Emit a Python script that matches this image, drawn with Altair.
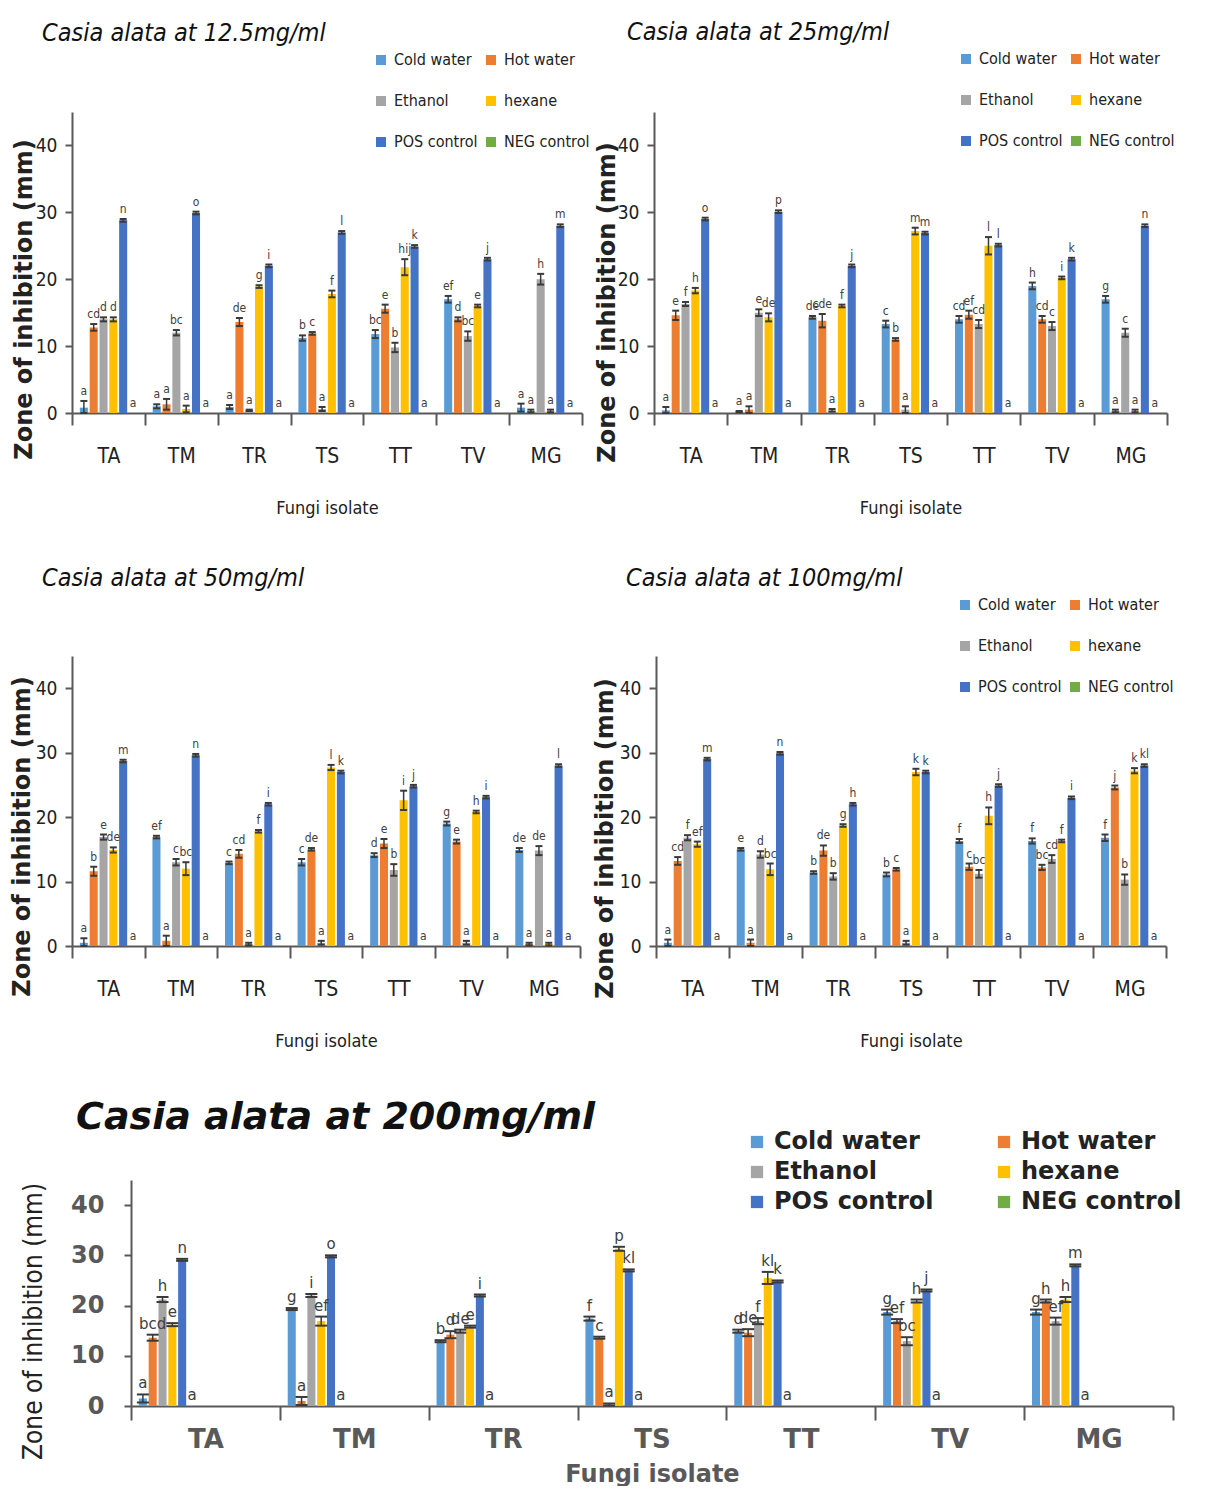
import altair as alt
import pandas as pd

FUNGI = ["TA", "TM", "TR", "TS", "TT", "TV", "MG"]
TREATMENTS = ["Cold water", "Hot water", "Ethanol", "hexane", "POS control", "NEG control"]
COLORS = ["#5B9BD5", "#ED7D31", "#A5A5A5", "#FFC000", "#4472C4", "#70AD47"]
Y_TICKS = [0, 10, 20, 30, 40]

# ---------------- 12.5 mg/ml ----------------
P1_MEAN = {
    "Cold water": [0.8, 1.0, 0.9, 11.2, 11.8, 17.0, 0.8],
    "Hot water": [12.8, 1.3, 13.6, 11.9, 15.6, 14.0, 0.3],
    "Ethanol": [14.0, 12.0, 0.4, 0.6, 9.8, 11.5, 20.0],
    "hexane": [14.0, 0.6, 18.9, 17.8, 21.8, 16.0, 0.3],
    "POS control": [28.8, 29.9, 22.0, 27.0, 24.9, 23.0, 28.0],
    "NEG control": [0, 0, 0, 0, 0, 0, 0],
}
P1_ERR = {
    "Cold water": [1.0, 0.3, 0.3, 0.4, 0.6, 0.5, 0.6],
    "Hot water": [0.5, 0.8, 0.6, 0.2, 0.6, 0.3, 0.2],
    "Ethanol": [0.3, 0.4, 0.1, 0.3, 0.7, 0.7, 0.8],
    "hexane": [0.3, 0.5, 0.2, 0.5, 1.2, 0.2, 0.2],
    "POS control": [0.2, 0.2, 0.2, 0.2, 0.2, 0.2, 0.2],
    "NEG control": [0, 0, 0, 0, 0, 0, 0],
}
P1_LET = {
    "Cold water": ["a", "a", "a", "b", "bc", "ef", "a"],
    "Hot water": ["cd", "a", "de", "c", "e", "d", "a"],
    "Ethanol": ["d", "bc", "a", "a", "b", "bc", "h"],
    "hexane": ["d", "a", "g", "f", "hij", "e", "a"],
    "POS control": ["n", "o", "i", "l", "k", "j", "m"],
    "NEG control": ["a", "a", "a", "a", "a", "a", "a"],
}

# ---------------- 25 mg/ml ----------------
P2_MEAN = {
    "Cold water": [0.4, 0.2, 14.3, 13.3, 14.0, 19.0, 17.0],
    "Hot water": [14.6, 0.5, 13.8, 11.0, 14.7, 14.0, 0.3],
    "Ethanol": [16.3, 15.0, 0.4, 0.5, 13.3, 13.0, 12.0],
    "hexane": [18.3, 14.3, 16.0, 27.2, 25.0, 20.2, 0.3],
    "POS control": [29.0, 30.1, 22.0, 26.9, 25.1, 23.0, 28.0],
    "NEG control": [0, 0, 0, 0, 0, 0, 0],
}
P2_ERR = {
    "Cold water": [0.5, 0.1, 0.2, 0.5, 0.5, 0.5, 0.5],
    "Hot water": [0.7, 0.5, 1.0, 0.2, 0.6, 0.5, 0.2],
    "Ethanol": [0.3, 0.5, 0.2, 0.5, 0.6, 0.6, 0.6],
    "hexane": [0.4, 0.6, 0.2, 0.5, 1.3, 0.2, 0.2],
    "POS control": [0.2, 0.2, 0.2, 0.2, 0.2, 0.2, 0.2],
    "NEG control": [0, 0, 0, 0, 0, 0, 0],
}
P2_LET = {
    "Cold water": ["a", "a", "de", "c", "cd", "h", "g"],
    "Hot water": ["e", "a", "cde", "b", "ef", "cd", "a"],
    "Ethanol": ["f", "e", "a", "a", "cd", "c", "c"],
    "hexane": ["h", "de", "f", "m", "l", "i", "a"],
    "POS control": ["o", "p", "j", "m", "l", "k", "n"],
    "NEG control": ["a", "a", "a", "a", "a", "a", "a"],
}

# ---------------- 50 mg/ml ----------------
P3_MEAN = {
    "Cold water": [0.5, 16.9, 12.9, 13.0, 14.1, 19.0, 14.9],
    "Hot water": [11.6, 0.8, 14.3, 15.0, 15.9, 16.2, 0.3],
    "Ethanol": [16.9, 13.0, 0.3, 0.5, 11.8, 0.5, 14.8],
    "hexane": [14.9, 12.0, 17.8, 27.7, 22.6, 20.8, 0.3],
    "POS control": [28.7, 29.6, 22.0, 27.0, 24.8, 23.1, 28.0],
    "NEG control": [0, 0, 0, 0, 0, 0, 0],
}
P3_ERR = {
    "Cold water": [0.7, 0.2, 0.2, 0.5, 0.3, 0.3, 0.3],
    "Hot water": [0.7, 0.8, 0.6, 0.2, 0.7, 0.3, 0.2],
    "Ethanol": [0.4, 0.5, 0.2, 0.3, 0.9, 0.3, 0.7],
    "hexane": [0.4, 1.0, 0.2, 0.4, 1.5, 0.2, 0.2],
    "POS control": [0.2, 0.2, 0.2, 0.2, 0.2, 0.2, 0.2],
    "NEG control": [0, 0, 0, 0, 0, 0, 0],
}
P3_LET = {
    "Cold water": ["a", "ef", "c", "c", "d", "g", "de"],
    "Hot water": ["b", "a", "cd", "de", "e", "e", "a"],
    "Ethanol": ["e", "c", "a", "a", "b", "a", "de"],
    "hexane": ["de", "bc", "f", "l", "i", "h", "a"],
    "POS control": ["m", "n", "i", "k", "j", "i", "l"],
    "NEG control": ["a", "a", "a", "a", "a", "a", "a"],
}

# ---------------- 100 mg/ml ----------------
P4_MEAN = {
    "Cold water": [0.5, 15.0, 11.4, 11.1, 16.3, 16.3, 16.8],
    "Hot water": [13.2, 0.5, 14.8, 11.9, 12.3, 12.2, 24.6],
    "Ethanol": [16.8, 14.2, 10.8, 0.5, 11.2, 13.5, 10.3],
    "hexane": [15.8, 11.9, 18.7, 27.0, 20.2, 16.3, 27.2],
    "POS control": [29.0, 29.9, 22.0, 27.0, 24.9, 23.0, 28.0],
    "NEG control": [0, 0, 0, 0, 0, 0, 0],
}
P4_ERR = {
    "Cold water": [0.5, 0.2, 0.2, 0.3, 0.3, 0.4, 0.5],
    "Hot water": [0.6, 0.5, 0.8, 0.2, 0.5, 0.4, 0.3],
    "Ethanol": [0.4, 0.5, 0.5, 0.3, 0.6, 0.6, 0.8],
    "hexane": [0.4, 0.9, 0.2, 0.5, 1.3, 0.2, 0.4],
    "POS control": [0.2, 0.2, 0.2, 0.2, 0.2, 0.2, 0.2],
    "NEG control": [0, 0, 0, 0, 0, 0, 0],
}
P4_LET = {
    "Cold water": ["a", "e", "b", "b", "f", "f", "f"],
    "Hot water": ["cd", "a", "de", "c", "c", "bc", "j"],
    "Ethanol": ["f", "d", "b", "a", "bc", "cd", "b"],
    "hexane": ["ef", "bc", "g", "k", "h", "f", "k"],
    "POS control": ["m", "n", "h", "k", "j", "i", "kl"],
    "NEG control": ["a", "a", "a", "a", "a", "a", "a"],
}

# ---------------- 200 mg/ml ----------------
P5_MEAN = {
    "Cold water": [1.5, 19.3, 12.9, 17.4, 14.9, 18.7, 18.7],
    "Hot water": [13.6, 1.0, 14.2, 13.6, 14.6, 16.9, 20.9],
    "Ethanol": [21.2, 22.0, 14.9, 0.3, 16.9, 12.9, 16.9],
    "hexane": [16.2, 16.9, 15.8, 31.3, 25.5, 20.9, 21.2],
    "POS control": [29.1, 29.8, 22.0, 27.0, 24.8, 23.0, 28.0],
    "NEG control": [0, 0, 0, 0, 0, 0, 0],
}
P5_ERR = {
    "Cold water": [0.8, 0.2, 0.2, 0.4, 0.3, 0.5, 0.5],
    "Hot water": [0.6, 0.8, 0.7, 0.2, 0.7, 0.4, 0.3],
    "Ethanol": [0.5, 0.3, 0.3, 0.2, 0.6, 0.8, 0.7],
    "hexane": [0.3, 0.9, 0.2, 0.4, 1.2, 0.3, 0.5],
    "POS control": [0.2, 0.2, 0.2, 0.2, 0.2, 0.2, 0.2],
    "NEG control": [0, 0, 0, 0, 0, 0, 0],
}
P5_LET = {
    "Cold water": ["a", "g", "b", "f", "d", "g", "g"],
    "Hot water": ["bcd", "a", "d", "c", "de", "ef", "h"],
    "Ethanol": ["h", "i", "de", "a", "f", "bc", "ef"],
    "hexane": ["e", "ef", "e", "p", "kl", "h", "h"],
    "POS control": ["n", "o", "i", "kl", "k", "j", "m"],
    "NEG control": ["a", "a", "a", "a", "a", "a", "a"],
}

NARROW = "Liberation Sans Narrow, DejaVu Sans Condensed, Roboto Condensed, Arial Narrow, sans-serif"
WIDE = "DejaVu Sans, Verdana, sans-serif"
AX = "#595959"
EB = "#3a3a3a"
YTITLE = "Zone of inhibition (mm)"


def table(mean, err, letters):
    rows = []
    for t in TREATMENTS:
        for i, f in enumerate(FUNGI):
            m = mean[t][i]
            e = err[t][i]
            rows.append({"fungus": f, "treatment": t, "mean": m, "err": e,
                         "lo": max(m - e, 0.0), "hi": m + e, "letter": letters[t][i]})
    return pd.DataFrame(rows)


SMALL = dict(
    title_font=NARROW, title_size=25, title_weight="normal",
    tick_font=NARROW, tick_size=19, tick_weight="normal", tick_color="#222222", ylab_pad=8,
    xlab_font=NARROW, xlab_size=21, xlab_weight="normal", xlab_pad=20,
    xtitle_font=NARROW, xtitle_size=18, xtitle_weight="normal", xtitle_pad=33,
    ytitle_font="DejaVu Sans", ytitle_size=24, ytitle_weight="bold",
    leg_font=NARROW, leg_size=16, leg_weight="normal", leg_row=25, leg_col=5, leg_sym=100,
    let_font=NARROW, let_size=12, cap=7, xtick=12,
)
BIG = dict(
    title_font=WIDE, title_size=38, title_weight="bold",
    tick_font=WIDE, tick_size=24, tick_weight="bold", tick_color="#595959", ylab_pad=20,
    xlab_font=WIDE, xlab_size=26, xlab_weight="bold", xlab_pad=6,
    xtitle_font=WIDE, xtitle_size=24, xtitle_weight="bold", xtitle_pad=10,
    ytitle_font=NARROW, ytitle_size=26, ytitle_weight="normal",
    leg_font=WIDE, leg_size=24, leg_weight="bold", leg_row=6, leg_col=58, leg_sym=150,
    let_font=WIDE, let_size=15, cap=12, xtick=14,
)


def panel(df, title, width, height, s, legend_xy, title_dx, title_offset, ytitle_x, ytitle_y):
    x_axis = alt.Axis(
        labelAngle=0, tickBand="extent", tickSize=s["xtick"], tickColor=AX, tickWidth=2,
        domainColor=AX, domainWidth=2,
        labelFont=s["xlab_font"], labelFontSize=s["xlab_size"], labelFontWeight=s["xlab_weight"],
        labelColor=s["tick_color"], labelPadding=s["xlab_pad"],
        titleFont=s["xtitle_font"], titleFontSize=s["xtitle_size"], titleFontWeight=s["xtitle_weight"],
        titleColor=s["tick_color"], titlePadding=s["xtitle_pad"],
    )
    x = alt.X("fungus:N", sort=FUNGI, title="Fungi isolate",
              scale=alt.Scale(paddingInner=0, paddingOuter=0), axis=x_axis)
    xo = alt.XOffset("treatment:N", sort=TREATMENTS,
                     scale=alt.Scale(domain=TREATMENTS, paddingInner=0.18, paddingOuter=0.8))
    y_axis = alt.Axis(
        values=Y_TICKS, grid=False, tickSize=7, tickColor=AX, tickWidth=2,
        domainColor=AX, domainWidth=2,
        labelFont=s["tick_font"], labelFontSize=s["tick_size"], labelFontWeight=s["tick_weight"],
        labelColor=s["tick_color"], labelPadding=s["ylab_pad"],
        titleFont=s["ytitle_font"], titleFontSize=s["ytitle_size"],
        titleFontWeight=s["ytitle_weight"], titleColor="#222222",
        titleX=ytitle_x, titleY=ytitle_y,
    )
    yscale = alt.Scale(domain=[0, 45], nice=False)

    def yenc(field):
        return alt.Y(field, type="quantitative", scale=yscale, axis=y_axis, title=YTITLE)

    if legend_xy is None:
        legend = None
    else:
        legend = alt.Legend(
            title=None, orient="none", legendX=legend_xy[0], legendY=legend_xy[1], columns=2,
            direction="horizontal",
            symbolType="square", symbolSize=s["leg_sym"], symbolStrokeWidth=0, symbolOpacity=1,
            labelFont=s["leg_font"], labelFontSize=s["leg_size"], labelFontWeight=s["leg_weight"],
            labelColor="#222222", labelOffset=5, rowPadding=s["leg_row"], columnPadding=s["leg_col"],
            padding=0, labelLimit=400,
        )
    color = alt.Color("treatment:N", sort=TREATMENTS,
                      scale=alt.Scale(domain=TREATMENTS, range=COLORS), legend=legend)

    base = alt.Chart(df)
    bars = base.mark_bar().encode(x=x, xOffset=xo, y=yenc("mean"), color=color)
    eb = base.transform_filter("datum.err > 0")
    rule = eb.mark_rule(color=EB, strokeWidth=1.5).encode(
        x=x, xOffset=xo, y=yenc("lo"), y2="hi:Q")
    cap_lo = eb.mark_tick(color=EB, thickness=2, size=s["cap"], opacity=1).encode(
        x=x, xOffset=xo, y=yenc("lo"))
    cap_hi = eb.mark_tick(color=EB, thickness=2, size=s["cap"], opacity=1).encode(
        x=x, xOffset=xo, y=yenc("hi"))
    text = base.mark_text(baseline="bottom", dy=-3, font=s["let_font"], fontSize=s["let_size"],
                          color="#404040").encode(
        x=x, xOffset=xo, y=yenc("hi"), text="letter:N")

    return alt.layer(bars, rule, cap_lo, cap_hi, text).properties(
        width=width, height=height,
        title=alt.TitleParams(
            text=title, font=s["title_font"], fontSize=s["title_size"], fontStyle="italic",
            fontWeight=s["title_weight"], color="#111111", anchor="start", frame="group",
            dx=title_dx, offset=title_offset,
        ),
    )


p1 = panel(table(P1_MEAN, P1_ERR, P1_LET), "Casia alata at 12.5mg/ml", 510, 301, SMALL,
           (301, -60), -30, 6, -36, 187)
p2 = panel(table(P2_MEAN, P2_ERR, P2_LET), "Casia alata at 25mg/ml", 513, 301, SMALL,
           (304, -61), -27, 6, -35, 190)
p3 = panel(table(P3_MEAN, P3_ERR, P3_LET), "Casia alata at 50mg/ml", 508, 290, SMALL,
           None, -30, 65, -38, 180)
p4 = panel(table(P4_MEAN, P4_ERR, P4_LET), "Casia alata at 100mg/ml", 510, 290, SMALL,
           (301, -59), -30, 6, -39, 182)
p5 = panel(table(P5_MEAN, P5_ERR, P5_LET), "Casia alata at 200mg/ml", 1042, 226, BIG,
           (614, -50), -55, -7, -85, 141)

spacer = alt.Chart(pd.DataFrame({"v": [0]})).mark_point(opacity=0).encode(
    x=alt.X("v:Q", axis=None), y=alt.Y("v:Q", axis=None)).properties(width=1, height=1)

row1 = alt.hconcat(p1, p2, spacing=5).resolve_scale(color="independent")
row2 = alt.hconcat(p3, p4, spacing=12).resolve_scale(color="independent")
row3 = alt.hconcat(spacer, p5, spacing=-57).resolve_scale(color="independent")

chart = alt.vconcat(row1, row2, row3, spacing=49).resolve_scale(color="independent").properties(
    padding={"left": 2, "top": 12, "right": 2, "bottom": 0},
    background="white",
).configure_view(stroke=None)

chart.save("out.html", embed_options={"renderer": "svg", "actions": False})
